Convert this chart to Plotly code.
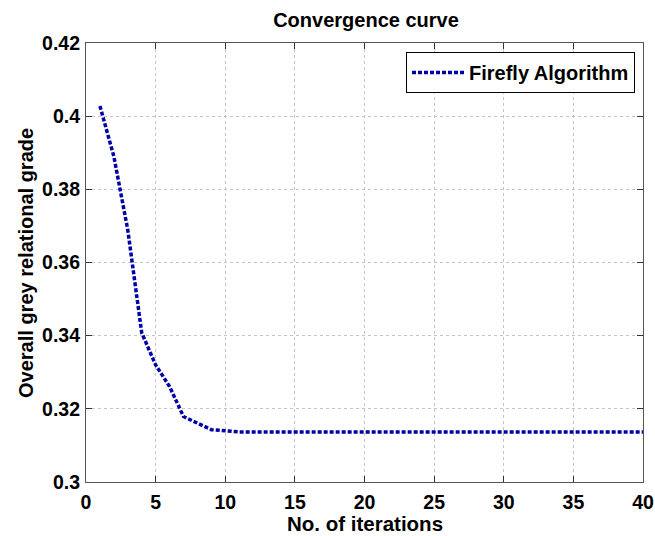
import plotly.graph_objects as go

iterations = list(range(1, 41))
grade = [0.4028, 0.3890, 0.3689, 0.3408, 0.3320, 0.3261, 0.3179, 0.3161, 0.3143, 0.3140] + [0.3137] * 30
series_name = "Firefly Algorithm"
x_ticks = [0, 5, 10, 15, 20, 25, 30, 35, 40]
y_ticks = [0.30, 0.32, 0.34, 0.36, 0.38, 0.40, 0.42]
y_tick_text = ["0.3", "0.32", "0.34", "0.36", "0.38", "0.4", "0.42"]

FONT = "Liberation Sans, Arial, sans-serif"
W, H = 655, 536
L, T = 86, 43
R = W - 643
B = H - 482
PW, PH = W - L - R, H - T - B

fig = go.Figure()
fig.add_trace(go.Scatter(
    x=iterations, y=grade, mode="lines", name=series_name,
    line=dict(color="#0000a8", width=3.5, dash="4px,2px"),
))

axis_common = dict(
    showgrid=True, gridcolor="#c4c4c4", griddash="dot", gridwidth=1,
    showline=True, linecolor="#555555", linewidth=1.2, mirror="ticks",
    ticks="inside", ticklen=6, tickcolor="#333333", tickwidth=1,
    zeroline=False, automargin=False,
    tickfont=dict(family=FONT, size=19.5, color="black", weight="bold"),
)

fig.update_layout(
    width=W, height=H,
    margin=dict(l=L, r=R, t=T, b=B),
    paper_bgcolor="white", plot_bgcolor="white",
    title=dict(text="Convergence curve", x=366 / W, xanchor="center",
               y=1 - 20 / H, yanchor="middle",
               font=dict(family=FONT, size=20, color="black", weight="bold")),
    xaxis=dict(range=[0, 40], tickvals=x_ticks, ticklabelstandoff=2, **axis_common),
    yaxis=dict(range=[0.30, 0.42], tickvals=y_ticks, ticktext=y_tick_text,
               ticklabelstandoff=1, **axis_common),
    showlegend=True,
    legend=dict(x=(635 - L) / PW, xanchor="right", y=1 - (52 - T) / PH, yanchor="top",
                bordercolor="black", borderwidth=1, bgcolor="white",
                itemwidth=52, tracegroupgap=0,
                font=dict(family=FONT, size=20, color="black", weight="bold")),
    annotations=[
        dict(text="No. of iterations", xref="paper", yref="paper",
             x=0.5, y=-(523 - 482) / PH, xanchor="center", yanchor="middle",
             showarrow=False,
             font=dict(family=FONT, size=20.5, color="black", weight="bold")),
        dict(text="Overall grey relational grade", xref="paper", yref="paper",
             x=-(L - 26) / PW, y=1 - (263 - T) / PH, xanchor="center", yanchor="middle",
             textangle=-90, showarrow=False,
             font=dict(family=FONT, size=20, color="black", weight="bold")),
    ],
)

fig.write_html(
    "out.html",
    config={"displayModeBar": False},
    post_script="document.body.style.margin='0';document.body.style.overflow='hidden';",
)
